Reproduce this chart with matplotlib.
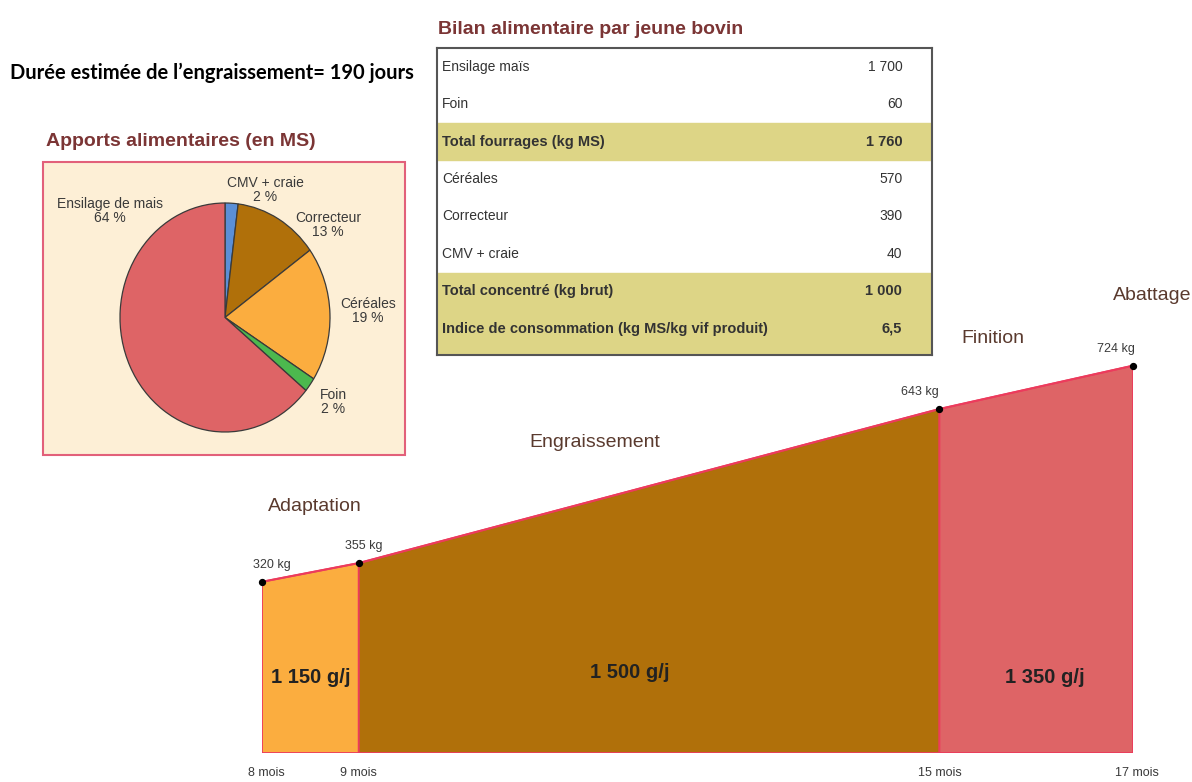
import matplotlib.pyplot as plt
from matplotlib.patches import Rectangle

# data
pie_labels = ["CMV + craie", "Correcteur", "Céréales", "Foin", "Ensilage de mais"]
pie_values = [2, 13, 19, 2, 64]
pie_colors = ["#5b8fd6", "#b0700a", "#fbad3f", "#4cb84e", "#de6466"]

table_labels = ["Ensilage maïs", "Foin", "Total fourrages (kg MS)", "Céréales", "Correcteur",
                "CMV + craie", "Total concentré (kg brut)", "Indice de consommation (kg MS/kg vif produit)"]
table_values = ["1 700", "60", "1 760", "570", "390", "40", "1 000", "6,5"]
table_bold = [False, False, True, False, False, False, True, True]

months = [8, 9, 15, 17]
month_labels = ["8 mois", "9 mois", "15 mois", "17 mois"]
weights = [320, 355, 643, 724]
phases = ["Adaptation", "Engraissement", "Finition"]
gains = ["1 150 g/j", "1 500 g/j", "1 350 g/j"]
phase_colors = ["#fbad3f", "#b0700a", "#de6466"]

W, H = 1192, 782
fig = plt.figure(figsize=(W / 100, H / 100), dpi=100)
plt.rcParams['font.family'] = ['Liberation Sans', 'DejaVu Sans']

def fx(x):
    return x / W

def fy(y):
    return 1 - y / H

maroon = "#7b3535"
grey = "#3a3a3a"

# header text
fig.text(fx(10), fy(73), "Durée estimée de l’engraissement= 190 jours", family="Lato",
         fontweight="bold", fontsize=14.5, va="center", ha="left", color="black")

# pie panel
fig.text(fx(46), fy(142), "Apports alimentaires (en MS)", fontsize=14, fontweight="bold",
         color=maroon, va="center", ha="left")
fig.patches.append(Rectangle((fx(43), fy(455)), fx(405) - fx(43), fy(162) - fy(455),
                             transform=fig.transFigure, facecolor="#fdefd6",
                             edgecolor="#e2607a", linewidth=1.5, zorder=-1))
ax_pie = fig.add_axes([fx(120), fy(432), fx(330) - fx(120), fy(203) - fy(432)])
ax_pie.pie(pie_values, colors=pie_colors, startangle=90, counterclock=False,
           wedgeprops=dict(edgecolor="#3a3a3a", linewidth=0.9))
ax_pie.set_aspect("auto")
ax_pie.set_xlim(-1, 1)
ax_pie.set_ylim(-1, 1)
ax_pie.axis("off")

pie_text_pos = [(265, 190), (328, 225), (368, 311), (333, 402), (110, 211)]
for lab, val, (x, y) in zip(pie_labels, pie_values, pie_text_pos):
    fig.text(fx(x), fy(y), f"{lab}\n{val} %", fontsize=10, color=grey, ha="center",
             va="center", linespacing=1.05)

# table
fig.text(fx(438), fy(29), "Bilan alimentaire par jeune bovin", fontsize=14, fontweight="bold",
         color=maroon, va="center", ha="left")
ax_tab = fig.add_axes([fx(437), fy(355), fx(932) - fx(437), fy(48) - fy(355)])
n = len(table_labels)
ax_tab.set_xlim(0, 1)
ax_tab.set_ylim(n + 0.15, -0.05)
ax_tab.axhspan(1.95, 2.95, color="#ddd586", zorder=0)
ax_tab.axhspan(5.95, n + 0.15, color="#ddd586", zorder=0)
for i, (lab, val, b) in enumerate(zip(table_labels, table_values, table_bold)):
    w = "bold" if b else "normal"
    fs = 10.5 if b else 10
    ax_tab.text(0.01, i + 0.45, lab, fontsize=fs, fontweight=w, color="#333333", va="center")
    ax_tab.text(0.94, i + 0.45, val, fontsize=fs, fontweight=w, color="#333333", va="center",
                ha="right")
ax_tab.set_xticks([])
ax_tab.set_yticks([])
for s in ax_tab.spines.values():
    s.set_color("#555555")
    s.set_linewidth(1.5)

# growth chart
ax = fig.add_axes([fx(262), fy(753), fx(1133) - fx(262), 800 * 0.535 / H])
ax.set_xlim(8, 17)
ax.set_ylim(0, 800)
ax.axis("off")
for i in range(len(phases)):
    xs = [months[i], months[i], months[i + 1], months[i + 1]]
    ys = [0, weights[i], weights[i + 1], 0]
    ax.fill(xs, ys, facecolor=phase_colors[i], edgecolor="#ec3b5c", linewidth=1.3, zorder=1)
ax.plot(months, weights, color="#ec3b5c", linewidth=1.5, zorder=2, clip_on=False)
ax.scatter(months, weights, color="black", s=18, zorder=3, clip_on=False)

weight_dx = [0.1, 0.05, -0.2, -0.18]
for m, w, dx in zip(months, weights, weight_dx):
    ax.text(m + dx, w + 20, f"{w} kg", fontsize=9, color=grey, ha="center", va="bottom")
month_dx = [0.05, 0, 0, 0.04]
for m, lab, dx in zip(months, month_labels, month_dx):
    ax.text(m + dx, -38, lab, fontsize=9, color=grey, ha="center", va="center", clip_on=False)

gain_pos = [(8.5, 142), (11.8, 150), (16.09, 142)]
for (x, y), g in zip(gain_pos, gains):
    ax.text(x, y, g, fontsize=14.5, fontweight="bold", color="#222222", ha="center", va="center")

phase_pos = [(8.55, 460), (11.44, 580), (15.55, 775)]
for (x, y), p in zip(phase_pos, phases):
    ax.text(x, y, p, fontsize=14, color="#5a3a2e", ha="center", va="center", clip_on=False)
ax.text(17.2, 856, "Abattage", fontsize=14, color="#5a3a2e", ha="center", va="center",
        clip_on=False)

fig.savefig("out.png", dpi=100)
